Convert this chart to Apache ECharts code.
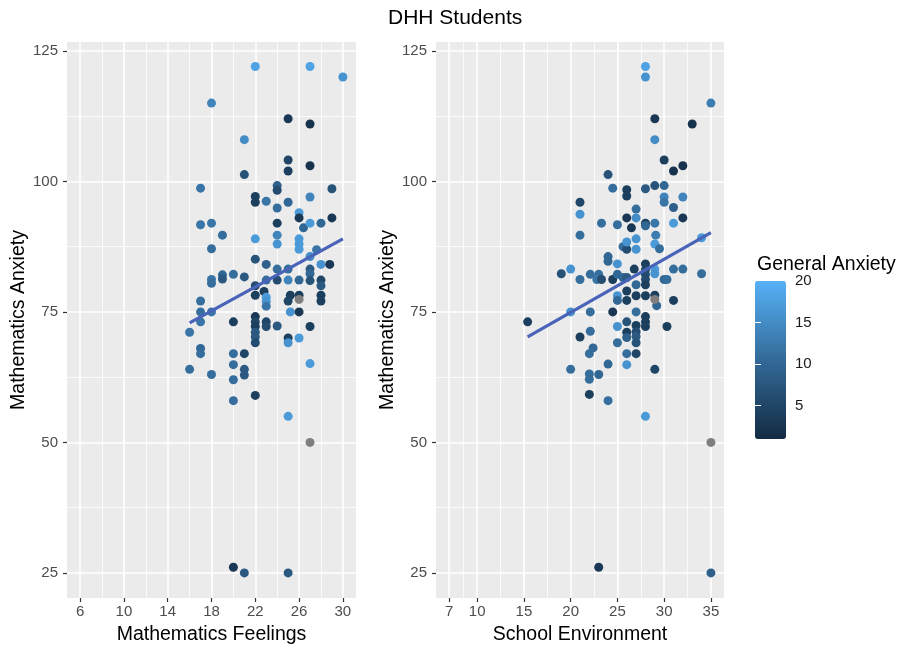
<!DOCTYPE html>
<html>
<head>
<meta charset="utf-8">
<script src="https://cdn.jsdelivr.net/npm/echarts@6/dist/echarts.min.js"></script>
<style>
html,body{margin:0;padding:0;background:#fff;}
#chart{width:899px;height:650px;}
</style>
</head>
<body>
<div id="chart"></div>
<script>
// ---- Data ----
// Left panel: Mathematics Feelings (x), Mathematics Anxiety (y), General Anxiety (colour)
const leftX = [16,16, 17,17,17,17,17,17,17, 18,18,18,18,18,18,18, 19,19,19,
  20,20,20,20,20,20,20, 21,21,21,21,21,21,21,
  22,22,22,22,22,22,22,22,22,22,22,22,22,22,
  23,23,23,22.8,23,23,23,23,23,
  24,24,24,24,24,24,24,24,24,
  25,25,25,25,25,25,25.2,25,25.2,25,25,25,25,
  26,26,26.4,26,26,26,26,26,26,26,
  27,27,27,27,27,27.6,27,27,27,27,27,27,
  28,28,28,28,28,28, 28.8, 29,29, 30];
const leftY = [71.1,64, 98.7,91.7,77.1,75,73.1,68,67, 115,92,87.1,81.2,80.5,75,63, 89.7,82.1,81.3,
  82.2,73.1,67,64.9,62,58,26.1, 108,101.3,81.7,67,64,62.9,25,
  122,97.1,96,89,85.1,80,78.2,74.1,73.1,72.2,71.1,70.2,69.1,59,
  96.2,84.1,81.1,78.9,77.8,77,76.1,73.1,72.2,
  99.2,98.3,94.9,92,89.7,88,83.2,81.1,72.3,
  112,104.1,102,96,83.2,81.1,78.2,77.1,75,70,69.1,55,25,
  94,93,91.1,89,88,87,81.1,78.2,75,70,
  122,111,103,97,92,86.9,85.6,83.2,82.3,81,72.2,65.1,
  92,84.1,81.1,80,78.2,77.1, 84.1, 98.6,93, 120];
const leftGA = [12,11, 12,12,11,11,12,10,11, 14,12,11,12,11,12,11, 11,10,8,
  11,4,11,11,11,11,3, 15,7,8,5,8,8,8,
  18,4,4,17,7,6,4,3,5,4,8,8,6,4,
  12,9,11,4,17,16,12,5,6,
  9,6,11,4,14,16,11,6,8,
  3,5,4,10,11,14,4,5,16,4,16,17,8,
  17,3,10,17,17,17,10,4,3,17,
  18,2,2,14,17,12,15,8,10,7,4,17,
  10,16,5,8,4,4, 3, 7,3, 16];

// Right panel: School Environment (x), Mathematics Anxiety (y), General Anxiety (colour)
const rightX = [28,28,35,29,33,29,30,31,32,24,24.5,26,26,28,29,30,30,30,32,31,21,21,21,27,27,26,26.5,28,28,29,31,32,23.3,25,27,29.1,29,29.5,25.6,26,26,27,24,24,25,26.8,28,28,28,28,29,29,30,30.3,31,32,34,34,19,20,21,22.1,23,22.8,23.3,24.5,25,25.6,26,27,28,26,27,28,29,29.2,25,25,26,31,24.5,27,20,22.1,15.4,25,26,27,28,28,28,30.3,21,22.1,22.4,22,20,22,22,23,22,24,24,25,26,26,26,26,27,27,27,27,29,28,23,35];
const rightY = [122,120,115,112,111,108,104.1,102,103,101.3,98.7,98.4,97.2,98.6,99.2,99.2,97,96,97,95,96,93.7,89.7,94.7,93,93,91.1,92,91.5,92,92,93,92,91.7,89,89.7,88,87.1,87.5,87,88.4,87,85.6,84.7,84.2,83.2,84.2,83.1,82.2,81.2,83.2,82.3,81.2,81.2,83.2,83.2,82.3,89.2,82.3,83.2,81.2,82.2,82.2,81.2,81.2,81.2,82.2,81.6,81.6,80.2,80.2,79,78.1,78.1,78.2,76.2,78.1,77.2,77.2,77.2,75,75,75,75,73.1,72.2,73.1,72.4,74.1,73.1,72.2,72.2,70.2,71.3,68.1,67,64,63.1,62.1,63,59.2,65,58,69.1,71.1,70.1,67,64.9,71.2,70.3,69.1,67,64,55,26.1,25];
const rightGA = [18,16,13,3,2,15,4,2,2,7,11,4,4,8,7,10,14,12,14,9,5,16,11,11,15,3,3,4,10,12,17,3,11,11,16,13,17,11,11,6,16,16,10,10,16,4,4,5,6,6,17,16,10,11,11,11,11,17,7,16,11,11,11,12,6,4,10,10,8,10,4,4,4,4,4,10,16,10,4,4,3,11,16,11,4,16,7,4,4,4,4,4,4,11,10,11,11,11,11,10,4,10,11,11,4,9,11,16,6,8,7,5,5,17,3,9];

// Students with missing General Anxiety (drawn grey)
const naLeftX = [27, 26];
const naLeftY = [50, 77.4];
const naRightX = [35, 29];
const naRightY = [50, 77.4];

// Fitted lines (end points)
const fitLeftX = [16, 30];
const fitLeftY = [72.9, 89.0];
const fitRightX = [15.4, 35];
const fitRightY = [70.2, 90.2];

// Tick labels
const leftXTicks = [6, 10, 14, 18, 22, 26, 30];
const rightXTicks = [7, 10, 15, 20, 25, 30, 35];
const yTicks = [25, 50, 75, 100, 125];
const gaTicks = [5, 10, 15, 20];
const gaRange = [1, 20];

// ---- Helpers ----
const FONT = '"Liberation Sans", Arial, Helvetica, sans-serif';
function zip3(a, b, c) { return a.map((v, i) => [v, b[i], c[i]]); }
function zip2(a, b) { return a.map((v, i) => [v, b[i]]); }
function mids(t) { const m = []; for (let i = 0; i < t.length - 1; i++) m.push((t[i] + t[i + 1]) / 2); return m; }
function gridLines(xt, yt) {
  const d = [];
  mids(yt).forEach(v => d.push({ yAxis: v, lineStyle: { width: 0.8 } }));
  mids(xt).forEach(v => d.push({ xAxis: v, lineStyle: { width: 0.8 } }));
  yt.forEach(v => d.push({ yAxis: v, lineStyle: { width: 1.6 } }));
  xt.forEach(v => d.push({ xAxis: v, lineStyle: { width: 1.6 } }));
  return d;
}

const tickLabelStyle = { fontSize: 15, color: '#4D4D4D', fontFamily: FONT };
const nameStyle = { fontSize: 19.5, color: '#000', fontFamily: FONT };

function xAxisDef(gi, min, max, ticks, name) {
  return {
    type: 'value', gridIndex: gi, min: min, max: max,
    name: name, nameLocation: 'middle', nameGap: 27, nameTextStyle: nameStyle,
    axisLine: { show: false },
    axisTick: { show: true, customValues: ticks, length: 4, lineStyle: { color: '#333', width: 1.2 } },
    axisLabel: { customValues: ticks, margin: 6, hideOverlap: false, ...tickLabelStyle },
    splitLine: { show: false }
  };
}
function yAxisDef(gi, gap) {
  return {
    type: 'value', gridIndex: gi, min: 20.2, max: 126.7,
    name: 'Mathematics Anxiety', nameLocation: 'middle', nameGap: gap, nameTextStyle: nameStyle,
    axisLine: { show: false },
    axisTick: { show: true, customValues: yTicks, length: 4, lineStyle: { color: '#333', width: 1.2 } },
    axisLabel: { customValues: yTicks, margin: 9, hideOverlap: false, ...tickLabelStyle },
    splitLine: { show: false }
  };
}
function gridLineSeries(xi, xt) {
  return { type: 'scatter', xAxisIndex: xi, yAxisIndex: xi, data: [], silent: true, z: 1,
    markLine: { silent: true, z: 1, symbol: 'none', animation: false, label: { show: false },
      lineStyle: { color: '#FFFFFF', type: 'solid' }, emphasis: { disabled: true },
      data: gridLines(xt, yTicks) } };
}

const option = {
  animation: false,
  backgroundColor: '#ffffff',
  title: [
    { text: 'DHH Students', left: 388, top: 8, padding: 0, textStyle: { fontSize: 21, fontWeight: 'normal', color: '#000', fontFamily: FONT } },
    { text: 'General Anxiety', left: 757, top: 255, padding: 0, textStyle: { fontSize: 19.5, fontWeight: 'normal', color: '#000', fontFamily: FONT } }
  ],
  grid: [
    { left: 67, top: 42, width: 289, height: 560, show: true, backgroundColor: '#EBEBEB', borderWidth: 0 },
    { left: 436, top: 42, width: 288, height: 560, show: true, backgroundColor: '#EBEBEB', borderWidth: 0 },
    { left: 755, top: 281, width: 31, height: 158, show: false }
  ],
  xAxis: [
    xAxisDef(0, 4.8, 31.2, leftXTicks, 'Mathematics Feelings'),
    xAxisDef(1, 5.6, 36.4, rightXTicks, 'School Environment'),
    { type: 'value', gridIndex: 2, show: false, min: 0, max: 1 }
  ],
  yAxis: [
    yAxisDef(0, 37),
    yAxisDef(1, 38),
    {
      type: 'value', gridIndex: 2, min: gaRange[0], max: gaRange[1], position: 'right', z: 10,
      axisLine: { show: false },
      axisTick: { show: true, inside: true, customValues: gaTicks.slice(0, 3), length: 6, lineStyle: { color: '#fff', width: 1 } },
      axisLabel: { customValues: gaTicks, margin: 9, hideOverlap: false, fontSize: 15, color: '#1A1A1A', fontFamily: FONT },
      splitLine: { show: false }
    },
    {
      type: 'value', gridIndex: 2, min: gaRange[0], max: gaRange[1], position: 'left', z: 10,
      axisLine: { show: false },
      axisTick: { show: true, inside: true, customValues: gaTicks.slice(0, 3), length: 6, lineStyle: { color: '#fff', width: 1 } },
      axisLabel: { show: false },
      splitLine: { show: false }
    }
  ],
  visualMap: [{
    type: 'continuous', min: gaRange[0], max: gaRange[1], dimension: 2, seriesIndex: [2, 3],
    left: 755, top: 281, itemWidth: 31, itemHeight: 158, padding: 0,
    calculable: false, hoverLink: false, text: null, showLabel: false, z: 1,
    inRange: { color: ['#132B43', '#336A98', '#56B1F7'] }
  }],
  series: [
    gridLineSeries(0, leftXTicks),
    gridLineSeries(1, rightXTicks),
    { type: 'scatter', xAxisIndex: 0, yAxisIndex: 0, z: 10, symbolSize: 9,
      itemStyle: { opacity: 1 }, data: zip3(leftX, leftY, leftGA) },
    { type: 'scatter', xAxisIndex: 1, yAxisIndex: 1, z: 10, symbolSize: 9,
      itemStyle: { opacity: 1 }, data: zip3(rightX, rightY, rightGA) },
    { type: 'scatter', xAxisIndex: 0, yAxisIndex: 0, z: 10, symbolSize: 9,
      itemStyle: { color: '#7F7F7F', opacity: 1 }, data: zip2(naLeftX, naLeftY) },
    { type: 'scatter', xAxisIndex: 1, yAxisIndex: 1, z: 10, symbolSize: 9,
      itemStyle: { color: '#7F7F7F', opacity: 1 }, data: zip2(naRightX, naRightY) },
    { type: 'line', xAxisIndex: 0, yAxisIndex: 0, z: 11, showSymbol: false, symbol: 'none',
      lineStyle: { color: '#4863B8', width: 3.2 }, data: zip2(fitLeftX, fitLeftY) },
    { type: 'line', xAxisIndex: 1, yAxisIndex: 1, z: 11, showSymbol: false, symbol: 'none',
      lineStyle: { color: '#4863B8', width: 3.2 }, data: zip2(fitRightX, fitRightY) }
  ]
};

const chart = echarts.init(document.getElementById('chart'), null, { renderer: 'canvas' });
chart.setOption(option);
</script>
</body>
</html>
